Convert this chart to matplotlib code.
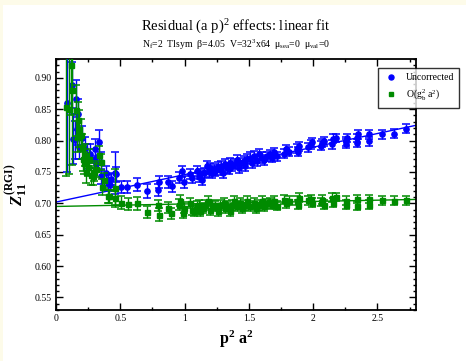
import numpy as np
import matplotlib
matplotlib.use('Agg')
import matplotlib.pyplot as plt
from matplotlib.lines import Line2D
from matplotlib.patches import Rectangle
from matplotlib.ticker import MultipleLocator, FormatStrFormatter

plt.rcParams['font.family'] = ['Liberation Serif', 'DejaVu Serif']
plt.rcParams['mathtext.fontset'] = 'custom'
plt.rcParams['mathtext.rm'] = 'Liberation Serif'
plt.rcParams['mathtext.it'] = 'Liberation Serif:italic:bold'
plt.rcParams['mathtext.bf'] = 'Liberation Serif:bold'

# uncorrected data: p^2 a^2, Z, error
unc_x = [0.086, 0.122, 0.156, 0.174, 0.135, 0.148, 0.200, 0.161, 0.182, 0.229,
         0.242, 0.268, 0.304, 0.338, 0.307, 0.351, 0.312, 0.348, 0.385, 0.403,
         0.408, 0.420, 0.429, 0.455, 0.465, 0.507, 0.556, 0.629, 0.707, 0.797,
         0.803, 0.870, 0.901, 0.953, 0.979, 0.992,
         1.039, 1.057, 1.096, 1.109, 1.122, 1.135, 1.153, 1.174, 1.187, 1.200,
         1.213, 1.226, 1.239, 1.257, 1.273, 1.284, 1.299, 1.317, 1.330, 1.343,
         1.356, 1.369, 1.395, 1.408, 1.421, 1.434, 1.460, 1.473, 1.486, 1.512,
         1.525, 1.538, 1.564, 1.577, 1.603, 1.616, 1.642, 1.668, 1.681, 1.694,
         1.720, 1.772, 1.785, 1.811, 1.876, 1.882, 1.889, 1.962, 1.980, 1.993,
         2.058, 2.071, 2.084, 2.149, 2.156, 2.175, 2.252, 2.255, 2.266, 2.338,
         2.341, 2.349, 2.434, 2.437, 2.538, 2.629, 2.720]
unc_y = [0.860, 0.889, 0.867, 0.842, 0.802, 0.801, 0.804, 0.818, 0.790, 0.787,
         0.774, 0.779, 0.787, 0.797, 0.771, 0.766, 0.763, 0.743, 0.748, 0.737,
         0.733, 0.730, 0.739, 0.748, 0.746, 0.726, 0.726, 0.730, 0.720, 0.721,
         0.734, 0.734, 0.727, 0.741, 0.751, 0.734,
         0.747, 0.740, 0.751, 0.742, 0.747, 0.737, 0.749, 0.759, 0.750, 0.757,
         0.749, 0.754, 0.751, 0.758, 0.753, 0.760, 0.749, 0.762, 0.757, 0.754,
         0.765, 0.759, 0.762, 0.769, 0.757, 0.765, 0.767, 0.759, 0.770, 0.773,
         0.764, 0.775, 0.767, 0.778, 0.773, 0.769, 0.775, 0.778, 0.773, 0.781,
         0.775, 0.779, 0.786, 0.782, 0.787, 0.782, 0.791, 0.789, 0.794, 0.797,
         0.792, 0.796, 0.799, 0.794, 0.803, 0.804, 0.799, 0.795, 0.804, 0.804,
         0.796, 0.810, 0.810, 0.799, 0.810, 0.811, 0.819]
unc_err = [0.110, 0.037, 0.030, 0.025, 0.040, 0.030, 0.020, 0.025, 0.020, 0.018,
           0.020, 0.015, 0.015, 0.020, 0.015, 0.015, 0.012, 0.012, 0.012, 0.010,
           0.012, 0.010, 0.010, 0.033, 0.012, 0.010, 0.010, 0.010, 0.011, 0.010,
           0.010, 0.009, 0.009, 0.009, 0.009, 0.009,
           0.008, 0.008, 0.008, 0.008, 0.008, 0.008, 0.008, 0.008, 0.008, 0.008,
           0.008, 0.008, 0.008, 0.008, 0.008, 0.008, 0.008, 0.008, 0.008, 0.008,
           0.008, 0.008, 0.008, 0.008, 0.008, 0.008, 0.008, 0.008, 0.008, 0.008,
           0.008, 0.008, 0.008, 0.008, 0.008, 0.008, 0.007, 0.007, 0.007, 0.007,
           0.007, 0.007, 0.007, 0.007, 0.007, 0.007, 0.007, 0.007, 0.007, 0.007,
           0.007, 0.007, 0.007, 0.007, 0.007, 0.007, 0.007, 0.007, 0.007, 0.007,
           0.007, 0.007, 0.007, 0.007, 0.007, 0.007, 0.007]

# O(g^2 a^2) corrected data
cor_x = [0.078, 0.104, 0.117, 0.122, 0.156, 0.169, 0.177, 0.161, 0.195, 0.203,
         0.208, 0.221, 0.229, 0.234, 0.247, 0.260, 0.273, 0.286, 0.299, 0.312,
         0.338, 0.351, 0.359, 0.377, 0.403, 0.416, 0.455, 0.462, 0.507, 0.559,
         0.631, 0.707, 0.792, 0.803, 0.870, 0.894, 0.960, 0.966, 0.987, 0.993,
         1.039, 1.057, 1.070, 1.096, 1.109, 1.122, 1.143, 1.161, 1.179, 1.200,
         1.213, 1.239, 1.257, 1.278, 1.304, 1.317, 1.330, 1.351, 1.369, 1.387,
         1.408, 1.434, 1.447, 1.473, 1.486, 1.512, 1.538, 1.559, 1.577, 1.603,
         1.616, 1.642, 1.668, 1.681, 1.694, 1.720, 1.772, 1.785, 1.811, 1.876,
         1.882, 1.889, 1.962, 1.980, 1.993, 2.058, 2.071, 2.084, 2.149, 2.156,
         2.175, 2.252, 2.255, 2.338, 2.341, 2.434, 2.437, 2.538, 2.629, 2.720]
cor_y = [0.854, 0.851, 0.920, 0.881, 0.848, 0.832, 0.819, 0.806, 0.809, 0.790,
         0.771, 0.764, 0.777, 0.750, 0.758, 0.771, 0.745, 0.743, 0.750, 0.755,
         0.777, 0.766, 0.726, 0.737, 0.711, 0.711, 0.709, 0.724, 0.701, 0.699,
         0.700, 0.686, 0.697, 0.682, 0.693, 0.684, 0.698, 0.704, 0.685, 0.693,
         0.701, 0.690, 0.688, 0.696, 0.698, 0.688, 0.693, 0.698, 0.704, 0.690,
         0.698, 0.696, 0.688, 0.698, 0.701, 0.693, 0.696, 0.688, 0.698, 0.704,
         0.696, 0.701, 0.693, 0.698, 0.704, 0.696, 0.701, 0.693, 0.698, 0.704,
         0.696, 0.700, 0.702, 0.698, 0.704, 0.696, 0.706, 0.700, 0.704, 0.704,
         0.698, 0.709, 0.705, 0.707, 0.701, 0.702, 0.706, 0.698, 0.709, 0.701,
         0.710, 0.704, 0.698, 0.707, 0.696, 0.707, 0.698, 0.705, 0.704, 0.705]
cor_err = [0.110, 0.105, 0.080, 0.120, 0.040, 0.030, 0.030, 0.025, 0.025, 0.020,
           0.020, 0.018, 0.018, 0.018, 0.015, 0.015, 0.015, 0.014, 0.014, 0.013,
           0.014, 0.013, 0.012, 0.012, 0.011, 0.011, 0.011, 0.030, 0.010, 0.010,
           0.010, 0.010, 0.009, 0.010, 0.009, 0.009, 0.009, 0.009, 0.009, 0.009,
           0.008, 0.008, 0.008, 0.008, 0.008, 0.008, 0.008, 0.008, 0.008, 0.008,
           0.008, 0.008, 0.008, 0.008, 0.008, 0.008, 0.008, 0.008, 0.008, 0.008,
           0.008, 0.008, 0.008, 0.008, 0.008, 0.008, 0.008, 0.008, 0.008, 0.008,
           0.008, 0.007, 0.007, 0.007, 0.007, 0.007, 0.007, 0.007, 0.007, 0.007,
           0.007, 0.007, 0.007, 0.007, 0.007, 0.007, 0.007, 0.007, 0.007, 0.007,
           0.007, 0.007, 0.007, 0.007, 0.007, 0.007, 0.007, 0.007, 0.007, 0.007]

# linear fits: intercept, slope
unc_fit = [0.702, 0.0437]
cor_fit = [0.695, 0.0040]

blue = '#0000ff'
green = '#008b00'

fig = plt.figure(figsize=(4.66, 3.61), dpi=100)
fig.patch.set_facecolor('#fdfbe9')
fig.add_artist(Rectangle((3 / 466, 0), 1, 1 - 5 / 361, transform=fig.transFigure,
                         facecolor='white', edgecolor='none', zorder=0))

ax = fig.add_axes([56 / 466, 51 / 361, 360 / 466, 251 / 361])
ax.set_xlim(0, 2.8)
ax.set_ylim(0.53, 0.93)

xx = np.array(ax.get_xlim())
ax.plot(xx, unc_fit[0] + unc_fit[1] * xx, color=blue, lw=1, zorder=2)
ax.plot(xx, cor_fit[0] + cor_fit[1] * xx, color=green, lw=1, zorder=2)

ax.errorbar(unc_x, unc_y, yerr=unc_err, fmt='o', ms=3.8, color=blue,
            elinewidth=1, capsize=3.2, capthick=1.1, zorder=3)
ax.errorbar(cor_x, cor_y, yerr=cor_err, fmt='s', ms=3.6, color=green,
            elinewidth=1, capsize=3.2, capthick=1.1, zorder=4)

ax.xaxis.set_major_locator(MultipleLocator(0.5))
ax.xaxis.set_minor_locator(MultipleLocator(0.25))
ax.yaxis.set_major_locator(MultipleLocator(0.05))
ax.yaxis.set_minor_locator(MultipleLocator(0.01))
ax.xaxis.set_major_formatter(FormatStrFormatter('%g'))
ax.yaxis.set_major_formatter(FormatStrFormatter('%.2f'))
ax.tick_params(which='both', direction='in', top=True, right=True, labelsize=7,
               width=1, pad=3)
ax.tick_params(which='major', length=5)
ax.tick_params(which='minor', length=2.5)
for s in ax.spines.values():
    s.set_linewidth(1.3)

ax.set_xlabel(r'$\mathbf{p}^{\mathbf{2}}\ \mathbf{a}^{\mathbf{2}}$', fontsize=11.5, labelpad=4)
ax.set_ylabel(r'$Z_{\mathbf{11}}^{\mathbf{(RGI)}}$', fontsize=12, labelpad=4)

fig.text(236 / 466, 1 - 27 / 361, r'Residual (a p)$^{2}$ effects: linear fit',
         ha='center', va='center', fontsize=10.5)
fig.text(236 / 466, 1 - 45 / 361,
         r'N$_{\mathrm{f}}$=2  Tlsym  β=4.05  V=32$^{3}$x64  μ$_{\mathrm{sea}}$=0  μ$_{\mathrm{val}}$=0',
         ha='center', va='center', fontsize=7)

handles = [Line2D([], [], ls='none', marker='o', ms=3.6, color=blue),
           Line2D([], [], ls='none', marker='s', ms=3.4, color=green)]
labels = ['Uncorrected', r'O(g$^{2}_{\mathrm{b}}$ a$^{2}$)']
leg = fig.legend(handles, labels, loc='upper left', bbox_to_anchor=(378 / 466, 1 - 68 / 361),
                 fontsize=7, frameon=True, fancybox=False, borderaxespad=0,
                 handlelength=1.5, handletextpad=0.8, borderpad=0.55, labelspacing=0.55)
leg.get_frame().set_edgecolor('black')
leg.get_frame().set_linewidth(1)

fig.savefig('out.png', dpi=100)
